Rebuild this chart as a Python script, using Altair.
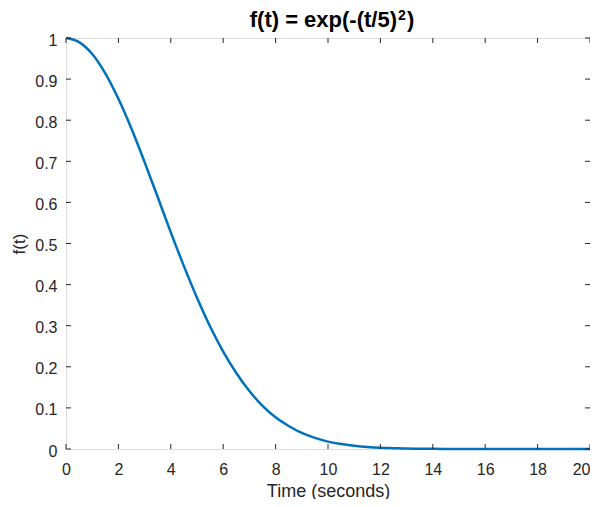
import altair as alt
import pandas as pd

# values
t_vals = [0, 0.5, 1, 1.5, 2, 2.5, 3, 3.5, 4, 4.5, 5, 5.5, 6, 6.5, 7, 7.5, 8, 8.5,
          9, 9.5, 10, 10.5, 11, 11.5, 12, 12.5, 13, 13.5, 14, 15, 16, 17, 18, 19, 20]
f_vals = [1.0, 0.990, 0.961, 0.914, 0.852, 0.779, 0.698, 0.613, 0.527, 0.445, 0.368,
          0.298, 0.237, 0.185, 0.141, 0.105, 0.077, 0.056, 0.039, 0.027, 0.018, 0.012,
          0.008, 0.005, 0.003, 0.002, 0.001, 0.0007, 0.0004, 0.0001, 0.0, 0.0, 0.0, 0.0, 0.0]
x_ticks = [0, 2, 4, 6, 8, 10, 12, 14, 16, 18, 20]
y_ticks = [0, 0.1, 0.2, 0.3, 0.4, 0.5, 0.6, 0.7, 0.8, 0.9, 1]
title_main = "f(t) = exp(-(t/5)"
title_sup = "2"
title_end = ")"

W, H = 524, 411
AX = "#262626"
FONT = "Liberation Sans"

df = pd.DataFrame({"t": t_vals, "f": f_vals})
xt = pd.DataFrame({"t": x_ticks})
yt = pd.DataFrame({"f": y_ticks})
one = pd.DataFrame({"k": [0]})

xs = alt.Scale(domain=[0, 20], nice=False, zero=False)
ys = alt.Scale(domain=[0, 1], nice=False, zero=False)

xaxis = alt.Axis(values=x_ticks, ticks=False, domain=False, grid=False,
                 labelPadding=12, labelFontSize=16, labelColor=AX, labelFlush=False,
                 labelAlign={"expr": "datum.value == 20 ? 'right' : 'center'"},
                 labelFont=FONT, titleFont=FONT, titleFontSize=18, format="~g",
                 titleFontWeight="normal", titleColor=AX, titlePadding=5)
yaxis = alt.Axis(values=y_ticks, ticks=False, domain=False, grid=False,
                 labelPadding=9, labelFontSize=16, labelColor=AX, labelOffset=2,
                 labelFont=FONT, titleFont=FONT, titleFontSize=17, format="~g",
                 titleFontWeight="normal", titleColor=AX, titlePadding=6,
                 labelFlush=False)
X = alt.X("t:Q", scale=xs, title="Time (seconds)", axis=xaxis)
Y = alt.Y("f:Q", scale=ys, title="f(t)", axis=yaxis)

line = alt.Chart(df).mark_line(color="#0072BD", strokeWidth=2.5,
                               interpolate="monotone").encode(x=X, y=Y)

tick_len = 5
bx = alt.Chart(xt).mark_rule(color=AX, strokeWidth=1).encode(
    x=X, y=alt.value(H), y2=alt.value(H - tick_len))
tx = alt.Chart(xt).mark_rule(color=AX, strokeWidth=1).encode(
    x=X, y=alt.value(0), y2=alt.value(tick_len))
ly = alt.Chart(yt).mark_rule(color=AX, strokeWidth=1).encode(
    y=Y, x=alt.value(0), x2=alt.value(tick_len))
ry = alt.Chart(yt).mark_rule(color=AX, strokeWidth=1).encode(
    y=Y, x=alt.value(W), x2=alt.value(W - tick_len))

t1 = alt.Chart(one).mark_text(text=title_main, font=FONT, fontSize=22, fontWeight="bold",
                              color="#000000", align="right", baseline="alphabetic").encode(
    x=alt.value(331), y=alt.value(-11))
t2 = alt.Chart(one).mark_text(text=title_sup, font=FONT, fontSize=14, fontWeight="bold",
                              color="#000000", align="left", baseline="alphabetic").encode(
    x=alt.value(332), y=alt.value(-18))
t3 = alt.Chart(one).mark_text(text=title_end, font=FONT, fontSize=22, fontWeight="bold",
                              color="#000000", align="left", baseline="alphabetic").encode(
    x=alt.value(341), y=alt.value(-11))

chart = alt.layer(line, bx, tx, ly, ry, t1, t2, t3).properties(
    width=W, height=H,
    autosize=alt.AutoSizeParams(type="none"),
    padding={"left": 58, "top": 30, "right": 0, "bottom": 50},
).configure_view(stroke=AX, strokeWidth=1).configure(background="white")

chart.save("out.html", embed_options={"renderer": "svg", "actions": False})
